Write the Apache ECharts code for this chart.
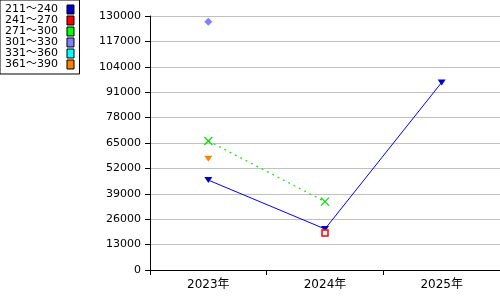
<!DOCTYPE html>
<html><head><meta charset="utf-8">
<script src="https://cdn.jsdelivr.net/npm/echarts@6/dist/echarts.min.js"></script>
<style>html,body{margin:0;padding:0;background:#fff}#c{width:500px;height:300px}</style>
</head><body><div id="c"></div>
<script>
const categories = ['2023年', '2024年', '2025年'];
const seriesNames = ['211～240', '241～270', '271～300', '301～330', '331～360', '361～390'];
const s211 = [46000, 21000, 96000];
const s241 = [null, 19000, null];
const s271 = [66000, 35000, null];
const s301 = [127000, null, null];
const s331 = [null, null, null];
const s361 = [57000, null, null];
const yTicks = [0, 13000, 26000, 39000, 52000, 65000, 78000, 91000, 104000, 117000, 130000];

const legendColors = ['#0000cc', '#ff0000', '#00ff00', '#8080ff', '#00ffff', '#ff8000'];
const font = 'DejaVu Sans, Noto Sans CJK JP, sans-serif';

const chart = echarts.init(document.getElementById('c'), null, {renderer: 'canvas'});
chart.setOption({
  animation: false,
  backgroundColor: '#fff',
  legend: {
    orient: 'vertical', left: 0, top: 0, align: 'right',
    padding: [4, 5, 4, 5],
    itemGap: 0, itemWidth: 7, itemHeight: 9,
    borderColor: '#000', borderWidth: 1,
    textStyle: {fontFamily: font, fontSize: 11, color: '#000', padding: [0, 4, 0, 0]},
    data: seriesNames.map((n, i) => ({name: n, icon: 'rect',
      itemStyle: {color: legendColors[i], borderColor: '#000', borderWidth: 1}}))
  },
  grid: {left: 150, right: 0, top: 16, bottom: 30, containLabel: false},
  xAxis: {
    type: 'category', data: categories, boundaryGap: true,
    axisLine: {lineStyle: {color: '#000', width: 1}},
    axisTick: {show: true, length: 5, lineStyle: {color: '#000'}},
    axisLabel: {fontFamily: font, fontSize: 12, color: '#000', margin: 9},
    splitLine: {show: false}
  },
  yAxis: {
    type: 'value', min: 0, max: yTicks[yTicks.length - 1], interval: yTicks[1] - yTicks[0],
    axisLine: {show: true, lineStyle: {color: '#000', width: 1}},
    axisTick: {show: true, length: 5, lineStyle: {color: '#000'}},
    axisLabel: {fontFamily: font, fontSize: 11, color: '#000', margin: 9, formatter: v => String(v)},
    splitLine: {show: true, lineStyle: {color: '#c0c0c0', width: 1}}
  },
  series: [
    {name: seriesNames[0], type: 'line', data: s211, symbol: 'triangle', symbolRotate: 180, symbolSize: [8, 6],
      lineStyle: {color: '#0000ff', width: 1}, itemStyle: {color: '#0000cc'}, connectNulls: false},
    {name: seriesNames[1], type: 'line', data: s241, symbol: 'rect', symbolSize: 6,
      lineStyle: {color: '#ff0000', width: 1}, itemStyle: {color: '#fff', borderColor: '#ff0000', borderWidth: 1.5}},
    {name: seriesNames[2], type: 'line', data: s271, symbol: 'path://M0,0L10,10M10,0L0,10', symbolSize: 8,
      lineStyle: {color: '#00ee00', width: 1.2, type: [2, 4]}, itemStyle: {color: 'none', borderColor: '#00dd00', borderWidth: 1.2}},
    {name: seriesNames[3], type: 'line', data: s301, symbol: 'diamond', symbolSize: 8,
      lineStyle: {color: '#8080ff', width: 1}, itemStyle: {color: '#8080ff'}},
    {name: seriesNames[4], type: 'line', data: s331, symbol: 'circle', symbolSize: 6,
      lineStyle: {color: '#00ffff', width: 1}, itemStyle: {color: '#00ffff'}},
    {name: seriesNames[5], type: 'line', data: s361, symbol: 'triangle', symbolRotate: 180, symbolSize: [8, 6],
      lineStyle: {color: '#ff8000', width: 1}, itemStyle: {color: '#ff8000'}}
  ]
});
</script></body></html>
